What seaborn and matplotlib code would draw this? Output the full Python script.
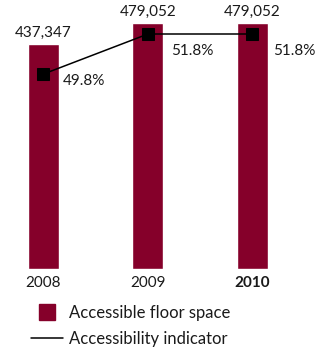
import matplotlib
matplotlib.use("Agg")
import matplotlib.pyplot as plt
import seaborn as sns
import numpy as np
import pandas as pd
from matplotlib.lines import Line2D

years = ["2008", "2009", "2010"]
floor_space = [437347, 479052, 479052]
indicator = [49.8, 51.8, 51.8]
value_labels = ["437,347", "479,052", "479,052"]
pct_labels = ["49.8%", "51.8%", "51.8%"]
legend_labels = ["Accessible floor space", "Accessibility indicator"]

BAR = "#85002a"
sns.set_style("white")
plt.rcParams['font.family'] = ['Lato', 'DejaVu Sans']

W, H = 323, 350
fig = plt.figure(figsize=(W / 100, H / 100), dpi=100)
ax_bottom_px, ax_top_px = 269, 10
ax = fig.add_axes([0, (H - ax_bottom_px) / H, 1, (ax_bottom_px - ax_top_px) / H])

df = pd.DataFrame({"year": years, "floor": floor_space})
sns.barplot(data=df, x="year", y="floor", color=BAR, saturation=1, width=0.297, ax=ax)
ax.set_xlim(-0.416, 2.675)
ax.set_ylim(0, 479052 * 259 / 246)
ax.set_xlabel("")
ax.set_ylabel("")
ax.set_yticks([])
for s in ax.spines.values():
    s.set_visible(False)
ax.tick_params(axis="x", length=0, pad=5, labelsize=11, colors="#1a1a1a")
ax.set_xticks(range(len(years)))
ax.set_xticklabels(years)
ax.get_xticklabels()[-1].set_fontweight("bold")

for i, (v, lab) in enumerate(zip(floor_space, value_labels)):
    ax.annotate(lab, (i, v), xytext=(0, 3), textcoords="offset points",
                ha="center", va="bottom", fontsize=11, color="#1a1a1a")

ax2 = ax.twinx()
ax2.set_position(ax.get_position())
sns.lineplot(x=np.arange(len(years)), y=indicator, ax=ax2, color="black",
             lw=1.1, marker="s", markersize=8.6, markeredgecolor="black")
ax2.set_ylim(40.05, 40.05 + 259 / 20)
ax2.set_yticks([])
ax2.set_xlim(ax.get_xlim())
for s in ax2.spines.values():
    s.set_visible(False)

offsets = [(14, -5), (17, -12), (15, -12)]
for i, (v, lab) in enumerate(zip(indicator, pct_labels)):
    ax2.annotate(lab, (i, v), xytext=offsets[i], textcoords="offset points",
                 ha="left", va="center", fontsize=11, color="#1a1a1a")

handles = [
    Line2D([], [], marker="s", linestyle="none", markersize=11, color=BAR),
    Line2D([], [], color="black", lw=1.1),
]
fig.legend(handles, legend_labels, loc="upper left",
           bbox_to_anchor=(16 / W, 1 - 290 / H), frameon=False,
           fontsize=12, handlelength=1.9, handletextpad=0.4,
           labelspacing=0.6, labelcolor="#1a1a1a")

fig.savefig("out.png", dpi=100)
